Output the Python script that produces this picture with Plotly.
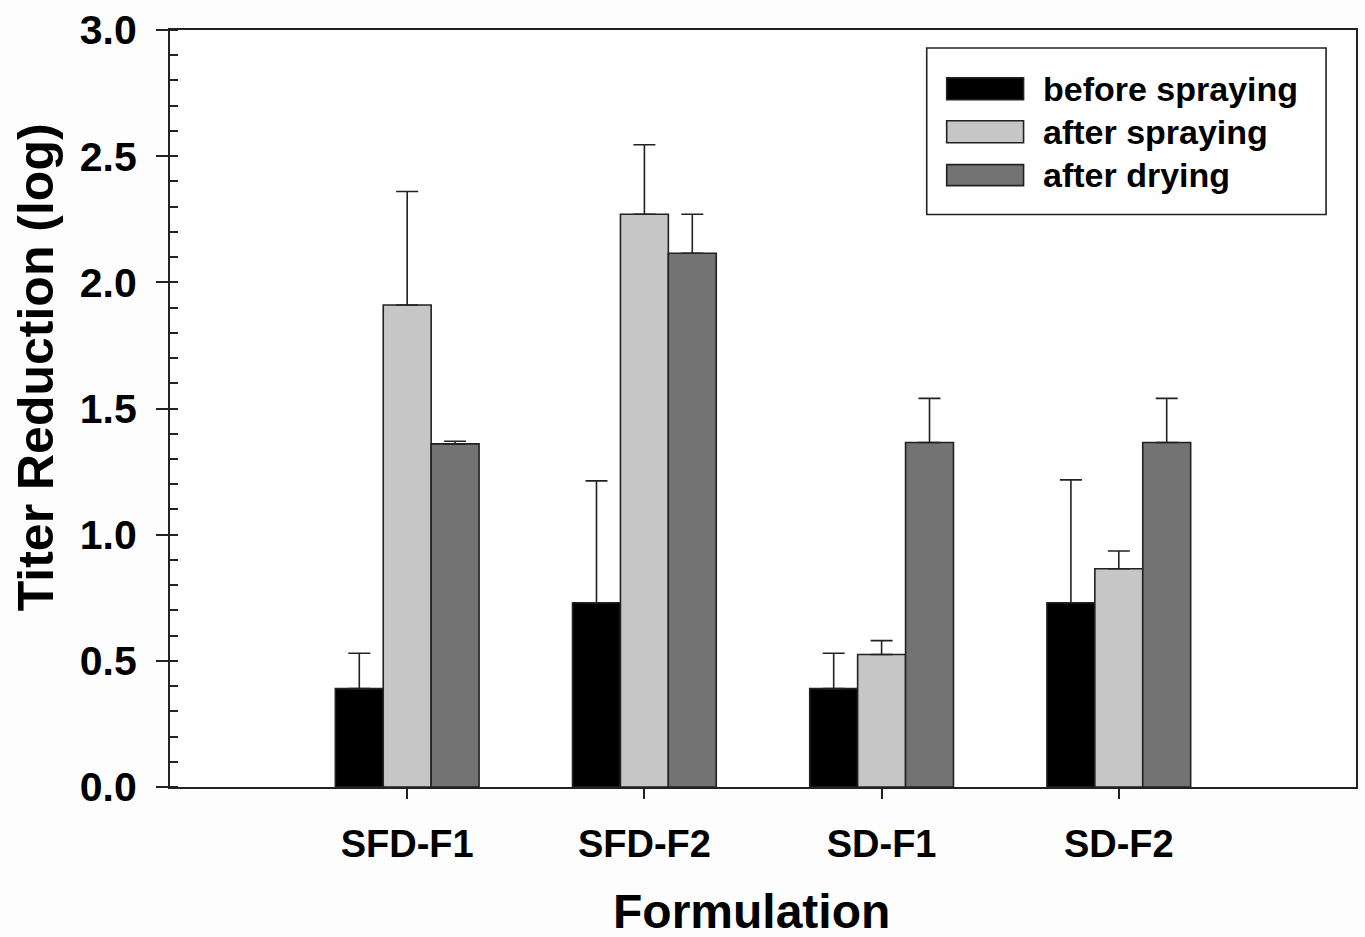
import plotly.graph_objects as go

categories = ["SFD-F1", "SFD-F2", "SD-F1", "SD-F2"]
series_names = ["before spraying", "after spraying", "after drying"]
before_spraying = [0.39, 0.73, 0.39, 0.73]
before_spraying_err = [0.14, 0.483, 0.14, 0.487]
after_spraying = [1.91, 2.27, 0.525, 0.865]
after_spraying_err = [0.45, 0.275, 0.055, 0.07]
after_drying = [1.36, 2.115, 1.365, 1.365]
after_drying_err = [0.01, 0.155, 0.175, 0.175]
y_ticks = [0.0, 0.5, 1.0, 1.5, 2.0, 2.5, 3.0]

colors = ["#000000", "#c6c6c6", "#737373"]
edge = "#222222"
FONT = "Liberation Sans, Arial, sans-serif"

fig = go.Figure()
for name, vals, errs, col in zip(series_names,
                                 [before_spraying, after_spraying, after_drying],
                                 [before_spraying_err, after_spraying_err, after_drying_err],
                                 colors):
    fig.add_trace(go.Bar(
        x=categories, y=vals, name=name,
        marker=dict(color=col, line=dict(color=edge, width=1.6)),
        error_y=dict(type="data", array=errs, arrayminus=[0] * len(errs), symmetric=False,
                     color=edge, thickness=1.6, width=11),
        showlegend=False,
    ))

L, R, T, B = 170, 7, 28, 150
W, H = 1365, 937
pw, ph = W - L - R, H - T - B

def px(x):
    return (x - L) / pw

def py(y):
    return (H - B - y) / ph

shapes = [dict(type="rect", xref="paper", yref="paper",
               x0=px(928), x1=px(1328), y0=py(213), y1=py(46),
               line=dict(color=edge, width=1.6), fillcolor="white", layer="above")]
annotations = []
rows = [(76, 98), (119, 141), (163, 184)]
for (y0, y1), col, name in zip(rows, colors, series_names):
    shapes.append(dict(type="rect", xref="paper", yref="paper",
                       x0=px(948), x1=px(1025), y0=py(y1), y1=py(y0),
                       line=dict(color=edge, width=1.6), fillcolor=col, layer="above"))
    annotations.append(dict(text=name, xref="paper", yref="paper", x=px(1042), y=py((y0 + y1) / 2),
                            xanchor="left", yanchor="middle", showarrow=False,
                            font=dict(family=FONT, size=34, color="#000000", weight="bold")))

annotations.append(dict(text="Titer Reduction (log)", xref="paper", yref="paper",
                        x=px(36), y=py(366), xanchor="center", yanchor="middle", textangle=-90,
                        showarrow=False, font=dict(family=FONT, size=50, color="#000000", weight="bold")))
annotations.append(dict(text="Formulation", xref="paper", yref="paper",
                        x=px(752), y=py(912), xanchor="center", yanchor="middle",
                        showarrow=False, font=dict(family=FONT, size=48, color="#000000", weight="bold")))

fig.update_layout(
    width=W, height=H,
    margin=dict(l=L, r=R, t=T, b=B),
    paper_bgcolor="#fdfdfd", plot_bgcolor="#ffffff",
    barmode="group", bargap=0.394, bargroupgap=0,
    shapes=shapes, annotations=annotations,
    font=dict(family=FONT, color="#000000"),
    xaxis=dict(type="category", range=[-1, 4], showline=True, linecolor=edge, linewidth=2,
               mirror=True, ticks="outside", ticklen=10, tickwidth=2, tickcolor=edge,
               showgrid=False, zeroline=False, ticklabelstandoff=12,
               tickfont=dict(family=FONT, size=38, color="#000000", weight="bold")),
    yaxis=dict(range=[0, 3.0], tickvals=y_ticks, ticktext=[f"{v:.1f}" for v in y_ticks],
               showline=True, linecolor=edge, linewidth=2, mirror=True,
               ticks="outside", ticklen=12, tickwidth=2, tickcolor=edge,
               minor=dict(ticks="inside", ticklen=8, tickwidth=2, tickcolor=edge, dtick=0.1, showgrid=False),
               showgrid=False, zeroline=False, ticklabelstandoff=11,
               tickfont=dict(family=FONT, size=41, color="#000000", weight="bold")),
)

fig.write_html("out.html")
